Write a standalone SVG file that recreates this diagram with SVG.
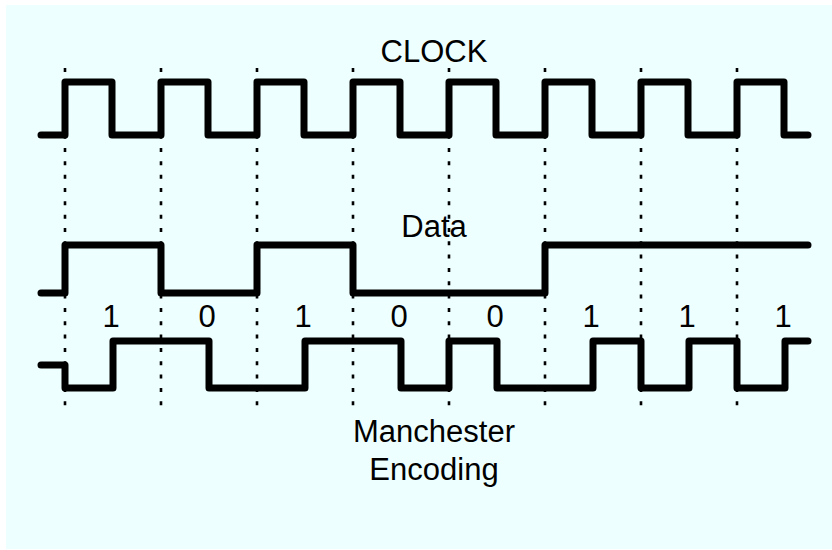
<svg xmlns="http://www.w3.org/2000/svg" width="832" height="550" viewBox="0 0 832 550">
<style>
.sig{fill:none;stroke:#000;stroke-width:7;stroke-linejoin:round;stroke-linecap:round}
.grid{stroke:#000;stroke-width:2.6;stroke-dasharray:4 9.33;fill:none}
.lbl{font-family:"Liberation Sans",Arial,sans-serif;font-size:31px;fill:#000;text-anchor:middle}
</style>
<rect x="0" y="0" width="832" height="550" fill="#fff"/>
<rect x="6" y="5" width="826" height="544" fill="#eeffff"/>
<g id="grid">
<path class="grid" d="M65 68V406M161 68V406M257 68V406M353 68V406M449 68V406M545 68V406M641 68V406M737 68V406"/>
</g>
<g id="connectors">
<path id="clock-wave" class="sig" d="M41 135H65V82H112V135H161V82H208V135H257V82H304V135H353V82H400V135H449V82H496V135H545V82H592V135H641V82H688V135H737V82H784V135H808"/>
<path id="data-wave" class="sig" d="M41 293H65V245H161V293H257V245H353V293H545V245H808"/>
<path id="manchester-wave" class="sig" d="M41 365H65V388H113V341H209V388H305V341H401V388H449V341H497V388H593V341H641V388H689V341H737V388H785V341H808"/>
</g>
<g id="clock"><text class="lbl" x="434" y="62">CLOCK</text></g>
<g id="data"><text class="lbl" x="434" y="237">Data</text></g>
<g id="bits">
<text class="lbl" x="111" y="327">1</text>
<text class="lbl" x="207" y="327">0</text>
<text class="lbl" x="303" y="327">1</text>
<text class="lbl" x="399" y="327">0</text>
<text class="lbl" x="495" y="327">0</text>
<text class="lbl" x="591" y="327">1</text>
<text class="lbl" x="687" y="327">1</text>
<text class="lbl" x="783" y="327">1</text>
</g>
<g id="manchester"><text class="lbl" x="434" y="442">Manchester</text><text class="lbl" x="434" y="480">Encoding</text></g>
</svg>
